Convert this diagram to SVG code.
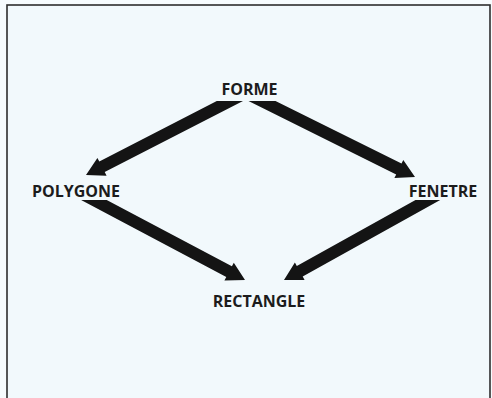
<svg xmlns="http://www.w3.org/2000/svg" width="492" height="398" viewBox="0 0 492 398">
<style>
.lbl{font-family:"Open Sans","Liberation Sans",Arial,sans-serif;font-weight:bold;font-size:16px;fill:#1c1c1c;text-anchor:middle}
.arr{fill:#141414}
</style>
<rect x="0" y="0" width="492" height="398" fill="#f7fcfe"/>
<rect x="7" y="5" width="483" height="400" fill="#f2f9fc" stroke="#2e2e2e" stroke-width="1.6"/>
<g id="connectors">
<polygon class="arr" points="216.8,101 243.0,101 104.7,172.1 106.6,175.7 86,175 97.4,157.9 99.3,161.4"/>
<polygon class="arr" points="248.5,101 275.5,101 401.5,163.6 403.3,160.0 415,177 394.4,178.0 396.2,174.4"/>
<polygon class="arr" points="81.1,200 106.7,200 231.9,266.3 233.8,262.7 245,280 224.4,280.4 226.3,276.9"/>
<polygon class="arr" points="415.5,200 440.2,200 302.7,276.5 304.6,280.0 284,280 294.9,262.5 296.8,266.0"/>
</g>
<g id="forme"><text class="lbl" x="249.5" y="95">FORME</text></g>
<g id="polygone"><text class="lbl" x="76" y="197">POLYGONE</text></g>
<g id="fenetre"><text class="lbl" x="443" y="197">FENETRE</text></g>
<g id="rectangle"><text class="lbl" x="259" y="307">RECTANGLE</text></g>
</svg>
